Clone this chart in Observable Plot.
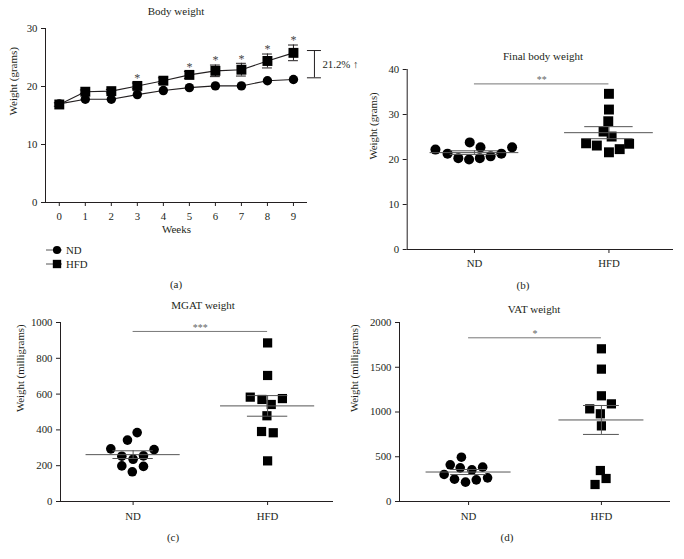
<!DOCTYPE html>
<html><head><meta charset="utf-8">
<script src="https://cdn.jsdelivr.net/npm/d3@7"></script>
<script src="https://cdn.jsdelivr.net/npm/@observablehq/plot@0.6"></script>
<style>
body{margin:0;background:#fff;}
#wrap{position:relative;width:684px;height:559px;font-family:"Liberation Serif",serif;color:#231f20;overflow:hidden;background:#fff}
.abs{position:absolute}
.t{position:absolute;transform:translate(-50%,-50%);font-size:11px;white-space:nowrap;line-height:1}
</style></head><body><div id="wrap"></div>
<script>
// ---------- data ----------
const weeks = [0,1,2,3,4,5,6,7,8,9];
const ndBody = [17.0,17.8,17.8,18.6,19.3,19.8,20.1,20.1,21.0,21.2];
const ndBodySem = [0.2,0.2,0.2,0.2,0.2,0.2,0.2,0.2,0.2,0.2];
const hfdBody = [16.9,19.1,19.2,20.1,21.0,22.0,22.7,22.9,24.4,25.8];
const hfdBodySem = [0.3,0.3,0.3,0.5,0.5,0.6,1.0,1.1,1.2,1.35];
const starWeeks = [3,5,6,7,8,9];
const bracketVals = [21.5,26.2];
const bracketLabel = "21.2% \u2191";
const groups = ["ND","HFD"];

const finalND = [22.2,21.3,20.3,20.0,23.8,20.3,22.7,20.7,21.3,22.7];
const finalNDJit = [-0.29,-0.20,-0.12,-0.04,-0.035,0.04,0.045,0.12,0.20,0.28];
const finalHFD = [34.6,31.1,28.5,26.2,25.1,23.6,23.1,21.6,22.3,23.5];
const finalHFDJit = [0,0,-0.005,-0.04,0.02,-0.17,-0.09,0,0.08,0.15];

const mgatND = [294,343,385,253,236,255,290,199,166,196];
const mgatNDJit = [-0.166,-0.042,0.03,-0.084,0,0.077,0.156,-0.084,-0.006,0.077];
const mgatHFD = [886,704,583,570,542,575,479,391,384,227];
const mgatHFDJit = [0,0,-0.129,-0.042,0.027,0.11,-0.005,-0.045,0.042,0];

const vatND = [495,410,376,384,354,302,250,216,242,264];
const vatNDJit = [-0.054,-0.138,-0.063,0.106,0.025,-0.184,-0.106,-0.023,0.058,0.143];
const vatHFD = [1706,1479,1181,1091,1035,980,845,346,257,190];
const vatHFDJit = [0,0,0,0.075,-0.088,-0.008,0,-0.008,0.035,-0.048];

const titles = ["Body weight","Final body weight","MGAT weight","VAT weight"];
const captions = ["(a)","(b)","(c)","(d)"];
const legendItems = [{label:"ND",symbol:"circle"},{label:"HFD",symbol:"square"}];

// ---------- drawing ----------
const wrap = document.getElementById("wrap");
const INK = "#231f20";
const baseStyle = {background:"transparent",fontFamily:"'Liberation Serif', serif",fontSize:"10.8px",color:INK,overflow:"visible"};

function place(el, left, top){ el.classList.add("abs"); el.style.left=left+"px"; el.style.top=top+"px"; el.style.maxWidth="none"; wrap.appendChild(el); }
function label(text, x, y, size){ const d=document.createElement("div"); d.className="t"; d.textContent=text; d.style.left=x+"px"; d.style.top=y+"px"; if(size) d.style.fontSize=size+"px"; wrap.appendChild(d); }

// Panel (a)
const bodyRows = weeks.map((w,i)=>({week:w, nd:ndBody[i], ndSem:ndBodySem[i], hfd:hfdBody[i], hfdSem:hfdBodySem[i]}));
const capW = 0.19;
const pa = Plot.plot({
  width:380, height:240, marginLeft:45, marginRight:73, marginTop:28, marginBottom:38,
  style: baseStyle,
  x:{domain:[-0.53,9.54]}, y:{domain:[0,30]},
  marks:[
    Plot.ruleY([0],{stroke:INK}),
    Plot.ruleX([-0.53],{stroke:INK}),
    Plot.axisX({ticks:weeks, tickFormat:d=>d, tickSize:4, tickPadding:6, label:null, color:INK}),
    Plot.axisY({ticks:[0,10,20,30], tickFormat:d=>d, tickSize:4, tickPadding:4, label:null, color:INK}),
    Plot.text(["Weeks"],{frameAnchor:"bottom", dy:30, fontSize:11, fill:INK}),
    Plot.text(["Weight (grams)"],{frameAnchor:"left", dx:-32, rotate:-90, fontSize:11, fill:INK}),
    Plot.line(bodyRows,{x:"week", y:"nd", stroke:INK, strokeWidth:1.1}),
    Plot.line(bodyRows,{x:"week", y:"hfd", stroke:INK, strokeWidth:1.1}),
    Plot.ruleX(bodyRows,{x:"week", y1:d=>d.hfd-d.hfdSem, y2:d=>d.hfd+d.hfdSem, stroke:INK}),
    Plot.ruleY(bodyRows,{y:d=>d.hfd+d.hfdSem, x1:d=>d.week-capW, x2:d=>d.week+capW, stroke:INK}),
    Plot.ruleY(bodyRows,{y:d=>d.hfd-d.hfdSem, x1:d=>d.week-capW, x2:d=>d.week+capW, stroke:INK}),
    Plot.dot(bodyRows,{x:"week", y:"nd", r:4.7, fill:"#000", symbol:"circle"}),
    Plot.dot(bodyRows,{x:"week", y:"hfd", r:5.6, fill:"#000", symbol:"square"}),
    Plot.text(bodyRows.filter(d=>starWeeks.includes(d.week)),{x:"week", y:d=>d.hfd+d.hfdSem, dy:-4.5, text:()=>"*", fontSize:12, fill:"#444"}),
    Plot.ruleX([bracketVals],{x:()=>weeks[9], y1:d=>d[0], y2:d=>d[1], dx:21, stroke:INK}),
    Plot.ruleY(bracketVals,{y:d=>d, x1:()=>weeks[9], x2:()=>weeks[9], dx:21, insetLeft:-7, insetRight:-7, stroke:INK}),
    Plot.text([bracketLabel],{x:()=>weeks[9], y:()=>(bracketVals[0]+bracketVals[1])/2, dx:29, textAnchor:"start", fontSize:10.8, fill:INK, text:d=>d})
  ]
});
place(pa,0,0);

// legend for (a)
const leg = d3.select(wrap).append("svg").attr("class","abs").style("left","0px").style("top","240px").attr("width",120).attr("height",34)
  .style("font-family","'Liberation Serif', serif").style("font-size","10.8px");
const li = leg.selectAll("g").data(legendItems).join("g").attr("transform",(d,i)=>`translate(0,${10+i*14})`);
li.append("line").attr("x1",46).attr("x2",62).attr("stroke","#555");
li.append("path").attr("transform","translate(57,0)").attr("d",d=>d3.symbol(d.symbol==="circle"?d3.symbolCircle:d3.symbolSquare, d.symbol==="circle"?52:70)()).attr("fill","#000");
li.append("text").attr("x",66).attr("dy","0.35em").attr("fill",INK).text(d=>d.label);

// scatter panels
function scatter(o){
  const pts = [...o.nd.map((v,i)=>({g:0,x:0+o.ndJ[i],y:v})), ...o.hfd.map((v,i)=>({g:1,x:1+o.hfdJ[i],y:v}))];
  const stats = [o.nd,o.hfd].map((a,g)=>{const m=d3.mean(a), s=d3.deviation(a)/Math.sqrt(a.length); return {g,m,lo:m-s,hi:m+s};});
  const sig = [{x1:0,x2:1,y:o.sigY,label:o.sigLabel}];
  const p = Plot.plot({
    width:o.width, height:240, marginLeft:o.mL, marginRight:o.width-o.mL-o.fw, marginTop:o.mT, marginBottom:240-o.mT-o.fh,
    style: baseStyle,
    x:{domain:o.xDom}, y:{domain:o.yDom},
    marks:[
      Plot.ruleY([o.yDom[0]],{stroke:INK}),
      Plot.ruleX([o.xDom[0]],{stroke:INK}),
      Plot.axisX({ticks:[0,1], tickFormat:i=>groups[i], tickSize:4, tickPadding:o.tp, label:null, color:INK}),
      Plot.axisY({ticks:o.yTicks, tickFormat:d=>String(d), tickSize:4, tickPadding:4, label:null, color:INK}),
      Plot.text([o.ylabel],{frameAnchor:"left", dx:o.ylDx, rotate:-90, fontSize:10.8, fill:INK}),
      Plot.ruleY(sig,{y:"y", x1:"x1", x2:"x2", stroke:"#777"}),
      Plot.text(sig,{x:d=>(d.x1+d.x2)/2, y:"y", dy:-4, text:"label", fontSize:10, fill:"#666"}),
      Plot.dot(pts.filter(d=>d.g===0),{x:"x", y:"y", r:o.rC, fill:"#000", symbol:"circle"}),
      Plot.dot(pts.filter(d=>d.g===1),{x:"x", y:"y", r:o.rS, fill:"#000", symbol:"square"}),
      Plot.ruleY(stats,{y:"m", x1:d=>d.g-o.meanHalf, x2:d=>d.g+o.meanHalf, stroke:"#555"}),
      Plot.ruleY(stats,{y:"lo", x1:d=>d.g-o.capHalf, x2:d=>d.g+o.capHalf, stroke:"#555"}),
      Plot.ruleY(stats,{y:"hi", x1:d=>d.g-o.capHalf, x2:d=>d.g+o.capHalf, stroke:"#555"}),
      Plot.ruleX(stats,{x:"g", y1:"lo", y2:"hi", stroke:"#555"})
    ]
  });
  place(p,o.left,o.top);
}

scatter({left:340, top:40, width:344, mL:66.7, fw:266.3, mT:29, fh:180, xDom:[-0.5,1.48], yDom:[0,40], yTicks:[0,10,20,30,40],
  ylabel:"Weight (grams)", ylDx:-34, tp:6, nd:finalND, ndJ:finalNDJit, hfd:finalHFD, hfdJ:finalHFDJit,
  sigY:36.8, sigLabel:"**", rC:5, rS:5.6, meanHalf:0.33, capHalf:0.18});
scatter({left:0, top:290, width:340, mL:60, fw:273, mT:32, fh:179, xDom:[-0.54,1.49], yDom:[0,1000], yTicks:[0,200,400,600,800,1000],
  ylabel:"Weight (milligrams)", ylDx:-40, tp:7, nd:mgatND, ndJ:mgatNDJit, hfd:mgatHFD, hfdJ:mgatHFDJit,
  sigY:950, sigLabel:"***", rC:4.8, rS:5.2, meanHalf:0.35, capHalf:0.15});
scatter({left:340, top:290, width:344, mL:59, fw:271, mT:32, fh:179, xDom:[-0.52,1.52], yDom:[0,2000], yTicks:[0,500,1000,1500,2000],
  ylabel:"Weight (milligrams)", ylDx:-45, tp:7, nd:vatND, ndJ:vatNDJit, hfd:vatHFD, hfdJ:vatHFDJit,
  sigY:1829, sigLabel:"*", rC:4.8, rS:5.2, meanHalf:0.32, capHalf:0.135});

// titles and captions
const titlePos = [[176,11],[543,56],[203,305],[534,309]];
const capPos = [[176,284],[523,285],[173,537],[507,537]];
titles.forEach((t,i)=>label(t,titlePos[i][0],titlePos[i][1],11));
captions.forEach((t,i)=>label(t,capPos[i][0],capPos[i][1],11));
</script></body></html>
